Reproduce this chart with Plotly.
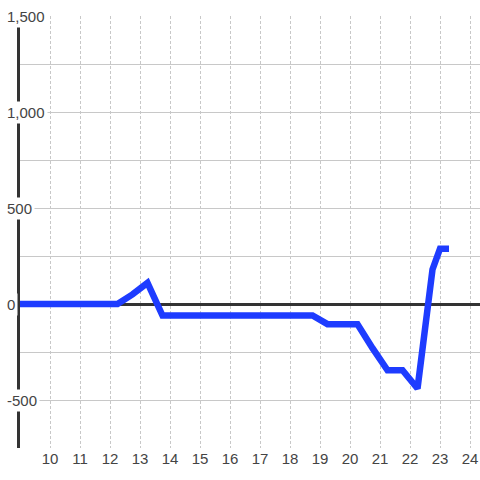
import plotly.graph_objects as go

hours = [9, 12.25, 12.75, 13.25, 13.75, 18.75, 19.25, 20.25, 20.75, 21.25, 21.75, 22.25, 22.75, 23.0, 23.3]
values = [0, 0, 50, 110, -60, -60, -105, -105, -230, -345, -345, -440, 180, 288, 288]

x_ticks = list(range(10, 25))
y_ticks = [-500, 0, 500, 1000, 1500]
y_labels = ["-500", "0", "500", "1,000", "1,500"]

fig = go.Figure()
fig.add_trace(go.Scatter(x=hours, y=values, mode="lines",
                         line=dict(color="#1e3cff", width=6.5), showlegend=False))

# y tick labels sit on top of the axis line with a white box behind them
for v, label in zip(y_ticks, y_labels):
    fig.add_annotation(x=0, xref="paper", y=v, yref="y", text=label, showarrow=False,
                       xanchor="left", xshift=-16, bgcolor="white", borderpad=2,
                       font=dict(size=15, color="#444"))

fig.update_layout(
    width=480, height=480,
    margin=dict(l=20, r=0, t=16, b=32),
    plot_bgcolor="white", paper_bgcolor="white",
    font=dict(family="Liberation Sans, Arial, sans-serif", size=15, color="#444"),
)
fig.update_xaxes(range=[9, 24.333], tickvals=x_ticks, showgrid=True, gridcolor="#c8c8c8",
                 griddash="3px,2px", gridwidth=1, zeroline=False, showline=False, ticks="",
                 automargin=False)
fig.update_yaxes(range=[-750, 1500], tickvals=y_ticks, showticklabels=False,
                 minor=dict(dtick=250, tick0=0, showgrid=True, gridcolor="#c8c8c8"),
                 showgrid=True, gridcolor="#c8c8c8", gridwidth=1,
                 zeroline=True, zerolinecolor="#333", zerolinewidth=3,
                 showline=True, linecolor="#333", linewidth=3, ticks="",
                 automargin=False)

fig.write_html("out.html", config={"displayModeBar": False},
               post_script="document.body.style.margin='0';")
